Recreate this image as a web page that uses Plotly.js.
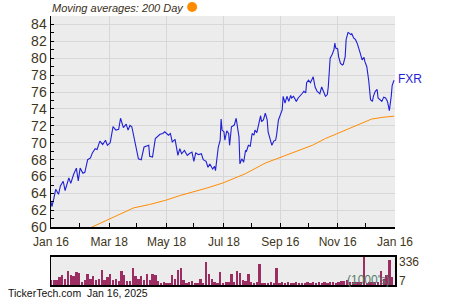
<!DOCTYPE html>
<html>
<head>
<meta charset="utf-8">
<script src="https://cdn.plot.ly/plotly-3.0.1.min.js"></script>
<style>html,body{margin:0;padding:0;background:#fff;}#chart{width:450px;height:300px;}</style>
</head>
<body>
<div id="chart"></div>
<script>
// Calendar-day offsets from 2024-01-16 and FXR closing prices
const startDate = '2024-01-16';
const endDate = '2025-01-16';
const priceDays = [0,1,3,5,8,10,13,15,19,21,24,27,29,31,34,36,39,42,44,47,49,52,55,58,60,63,66,69,72,74,77,80,82,84,86,88,
  93,96,99,104,105,108,111,116,119,121,125,127,129,132,135,137,139,142,145,147,150,152,154,157,160,162,165,167,169,172,174,175,178,180,181,182,
  184,185,187,189,190,192,195,197,198,200,201,203,205,207,208,210,212,214,216,217,219,221,223,224,226,228,230,231,233,235,237,239,240,242,244,246,247,249,251,253,255,256,258,261,263,265,267,269,271,272,
  274,276,278,279,281,283,285,286,288,290,292,294,295,297,299,301,302,303,305,306,308,310,311,313,314,316,317,319,320,322,324,326,327,329,331,333,334,336,338,340,342,343,345,347,348,350,352,354,356,358,359,360,362,363,365];
const prices = [63.0,62.45,63.4,64.5,63.9,64.9,65.45,64.35,65.85,65.2,66.25,67.0,65.5,67.0,66.4,66.5,68.0,68.2,68.8,69.3,69.2,70.2,69.8,70.3,69.7,70.0,71.9,71.5,71.6,72.9,71.8,72.2,71.5,72.05,71.9,70.7,
  68.1,68.0,69.5,69.7,68.4,68.3,70.5,71.0,71.1,71.3,70.9,71.1,70.1,70.4,68.5,69.3,68.7,69.1,68.5,68.7,68.9,67.8,68.8,68.6,68.7,68.0,67.8,67.1,67.5,66.9,67.2,66.7,69.5,70.3,72.8,71.5,
  71.3,70.3,71.4,71.1,69.7,71.9,72.1,72.9,72.1,70.7,67.5,68.1,67.7,69.1,69.0,69.7,69.6,71.1,70.9,71.5,71.2,72.3,73.2,72.5,72.7,73.5,72.7,71.3,70.5,69.7,70.2,70.3,70.9,72.7,73.3,73.9,75.5,74.7,75.5,74.9,75.6,75.3,75.5,74.9,75.3,75.5,75.8,76.1,75.9,77.1,
  77.4,77.1,77.6,77.8,76.6,76.1,75.9,75.8,76.6,76.1,75.5,75.7,76.6,80.0,80.4,81.0,81.8,81.2,81.1,80.2,79.4,79.2,79.3,80.2,82.2,83.05,83.0,82.8,82.9,82.4,82.2,81.7,81.2,80.6,79.8,80.1,79.6,79.0,77.4,75.1,74.9,75.5,76.1,76.3,75.3,75.1,74.9,75.4,75.3,74.9,74.5,73.8,75.5,76.8,77.4];

// 200-day moving average
const maDays = [43,60,73,88,105,122,137,152,166,183,207,228,244,260,278,292,305,320,334,341,352,365];
const maValues = [60.0,60.9,61.6,62.3,62.7,63.2,63.75,64.2,64.65,65.25,66.35,67.6,68.25,68.9,69.7,70.5,71.1,71.8,72.5,72.8,73.0,73.15];

// Volume (1000s)
const volDays = [0,3,6,9,12,15,18,21,24,27,30,33,36,39,42,45,48,51,54,57,60,63,66,69,72,75,78,81,84,87,90,93,96,99,102,105,108,111,114,117,120,123,126,129,132,135,138,141,144,147,150,153,156,159,162,165,168,171,174,177,180,183,186,189,192,195,198,201,204,207,210,213,216,219,222,225,228,231,234,237,240,243,246,249,252,255,258,261,264,267,270,273,276,279,282,285,288,291,294,297,300,303,306,309,312,315,318,321,324,327,330,333,336,339,342,345,348,351,354,357,360,363];
const volumes = [56,56,60,96,116,76,164,116,104,156,148,40,60,128,76,104,60,76,176,64,96,128,56,76,44,164,116,44,44,196,104,76,104,64,128,64,128,124,48,24,40,28,28,116,76,176,196,64,28,36,44,28,28,76,28,276,136,76,36,28,156,28,36,36,136,40,168,140,56,48,136,36,28,32,248,28,24,28,36,28,196,28,32,28,32,28,24,32,24,28,24,32,28,36,24,32,28,36,24,40,32,28,36,44,44,56,40,36,40,36,36,336,28,36,40,36,40,168,76,116,296,100];

// Axis ticks
const tickDates = ['2024-01-16','2024-03-18','2024-05-18','2024-07-18','2024-09-16','2024-11-16','2025-01-16'];
const tickLabels = ['Jan 16','Mar 18','May 18','Jul 18','Sep 16','Nov 16','Jan 16'];
const minorTickDates = ['2024-02-15','2024-04-16','2024-06-16','2024-08-16','2024-10-16','2024-12-16'];

const base = Date.UTC(2024, 0, 16);
const toDate = d => new Date(base + d * 864e5).toISOString().slice(0, 10);

const textColor = '#40361a';
const traces = [
  {x: volDays.map(toDate), y: volumes, type: 'bar', xaxis: 'x2', yaxis: 'y2',
   marker: {color: '#9b2d63', line: {width: 0}}, width: 2.5 * 864e5, hoverinfo: 'skip'},
  {x: maDays.map(toDate), y: maValues, type: 'scatter', mode: 'lines',
   line: {color: '#ff8c00', width: 1}, hoverinfo: 'skip'},
  {x: priceDays.map(toDate), y: prices, type: 'scatter', mode: 'lines',
   line: {color: '#1f1fd6', width: 1.1}, hoverinfo: 'skip'}
];

const lastDate = toDate(priceDays[priceDays.length - 1]);
const lastPrice = prices[prices.length - 1];

const layout = {
  width: 450, height: 300,
  margin: {l: 51, r: 55, t: 16, b: 15, pad: 0},
  paper_bgcolor: '#ffffff',
  plot_bgcolor: '#ececec',
  showlegend: false,
  font: {family: '"Liberation Sans", Arial, sans-serif', color: textColor},
  xaxis: {type: 'date', range: [startDate, endDate], anchor: 'y', domain: [0, 1],
    tickmode: 'array', tickvals: tickDates, ticktext: tickLabels,
    ticks: 'inside', ticklen: 4, tickwidth: 1, tickcolor: '#000',
    showline: true, linecolor: '#000', linewidth: 1.5,
    showgrid: true, gridcolor: '#d7d7d7', gridwidth: 1, zeroline: false,
    ticklabelstandoff: 3,
    tickfont: {size: 12, color: textColor},
    minor: {tickmode: 'array', tickvals: minorTickDates, ticks: 'inside', ticklen: 4, tickcolor: '#000', showgrid: false}},
  yaxis: {domain: [0.2145, 1], range: [60, 85], anchor: 'x',
    tickmode: 'linear', tick0: 60, dtick: 2,
    ticks: 'inside', ticklen: 3, tickwidth: 1, tickcolor: '#000',
    showline: true, linecolor: '#000', linewidth: 1.5,
    showgrid: true, gridcolor: '#d7d7d7', gridwidth: 1, zeroline: false,
    tickfont: {size: 14, color: textColor},
    minor: {dtick: 1, ticks: 'inside', ticklen: 3, tickcolor: '#000', showgrid: false}},
  xaxis2: {type: 'date', range: [startDate, endDate], anchor: 'y2', domain: [0, 1],
    showticklabels: false, ticks: '', showgrid: false, zeroline: false,
    showline: true, mirror: true, linecolor: '#000', linewidth: 1.5},
  yaxis2: {domain: [0, 0.1052], range: [0, 336], anchor: 'x2',
    showticklabels: false, ticks: '', showgrid: false, zeroline: false,
    showline: true, mirror: true, linecolor: '#000', linewidth: 1.5},
  bargap: 0,
  shapes: [
    {type: 'circle', xref: 'paper', yref: 'paper', xsizemode: 'pixel', ysizemode: 'pixel',
     xanchor: 0.4102, yanchor: 1.0335, x0: -5, x1: 5, y0: -5, y1: 5,
     fillcolor: '#ff8c00', line: {width: 0}}
  ],
  annotations: [
    {text: 'Moving averages: 200 Day', xref: 'paper', yref: 'paper', x: -0.003, y: 1.0297,
     xanchor: 'left', yanchor: 'middle', showarrow: false,
     font: {size: 11, color: '#3a3020', style: 'italic'}},
    {text: 'FXR', xref: 'x', yref: 'y', x: lastDate, y: lastPrice, xanchor: 'left', yanchor: 'middle',
     xshift: 2, yshift: 1, showarrow: false, font: {size: 12, color: '#1f1fd6'}},
    {text: '336', xref: 'paper', yref: 'paper', x: 1.0067, y: 0.0844, xanchor: 'left', yanchor: 'middle',
     showarrow: false, font: {size: 12, color: textColor}},
    {text: '7', xref: 'paper', yref: 'paper', x: 1.0067, y: 0.0149, xanchor: 'left', yanchor: 'middle',
     showarrow: false, font: {size: 12, color: textColor}},
    {text: "(1000's)", xref: 'paper', yref: 'paper', x: 0.992, y: 0.0186, xanchor: 'right', yanchor: 'middle',
     showarrow: false, font: {size: 12, color: '#557a66'}},
    {text: 'TickerTech.com  Jan 16, 2025', xref: 'paper', yref: 'paper', x: -0.1309, y: -0.0309,
     xanchor: 'left', yanchor: 'middle', showarrow: false, font: {size: 10.5, color: '#111111'}}
  ]
};

Plotly.newPlot('chart', traces, layout, {staticPlot: true, displayModeBar: false});
</script>
</body>
</html>
